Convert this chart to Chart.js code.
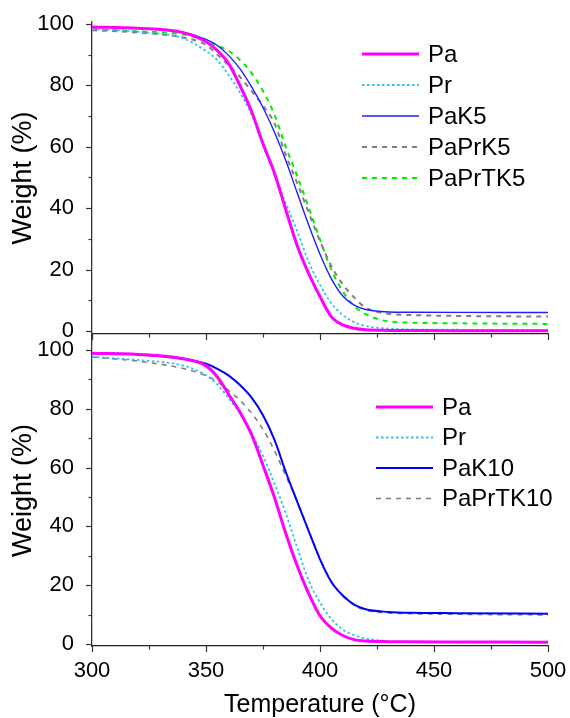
<!DOCTYPE html>
<html>
<head>
<meta charset="utf-8">
<script src="https://cdn.jsdelivr.net/npm/chart.js@4.4.0/dist/chart.umd.min.js"></script>
<style>
  html, body { margin: 0; padding: 0; background: #fff; }
  #wrap { position: relative; width: 570px; height: 718px; }
  .pane { position: absolute; left: 0; width: 570px; }
  #top { top: 0; height: 345px; }
  #bot { top: 335px; height: 383px; }
</style>
</head>
<body>
<div id="wrap">
  <div class="pane" id="top"><canvas id="cTop"></canvas></div>
  <div class="pane" id="bot"><canvas id="cBot"></canvas></div>
</div>
<script>
// --- DATA (temperature in °C, weight in %) ---
const temps = [300, 320, 340, 350, 355, 360, 365, 370, 375, 380, 385, 390, 395, 400, 405, 410, 415, 420, 430, 440, 460, 500];

// top panel
const topPa      = [99.0, 98.6, 97.2, 94.2, 91.3, 87.0, 79.8, 71.5, 61.0, 51.5, 39.5, 27.8, 18.8, 11.2, 4.6, 2.0, 0.9, 0.4, 0.2, 0.15, 0.1, 0.1];
const topPr      = [98.3, 97.5, 95.3, 91.2, 88.2, 83.3, 77.5, 70.5, 60.5, 51.0, 41.6, 32.5, 22.6, 15.0, 9.0, 5.2, 2.9, 1.6, 0.8, 0.5, 0.4, 0.3];
const topPaK5    = [99.0, 98.6, 97.3, 95.0, 93.0, 89.7, 85.3, 79.5, 72.8, 64.8, 55.5, 45.0, 34.6, 25.0, 17.0, 11.4, 8.4, 7.0, 6.2, 6.1, 6.05, 6.0];
const topPaPrK5  = [98.0, 97.2, 95.6, 93.2, 90.0, 86.5, 82.7, 78.1, 73.4, 67.7, 57.3, 48.2, 38.6, 29.3, 21.1, 15.2, 10.9, 7.6, 5.6, 5.2, 4.9, 4.7];
const topPaPrTK5 = [98.3, 97.6, 96.6, 94.5, 93.0, 91.2, 88.2, 84.0, 78.2, 70.5, 60.0, 50.5, 40.3, 29.8, 19.9, 12.9, 8.1, 5.5, 3.1, 2.7, 2.5, 2.3];

// bottom panel
const botPa      = [98.9, 98.5, 97.0, 94.6, 90.8, 84.8, 78.7, 71.2, 60.8, 49.9, 37.6, 26.6, 17.2, 9.6, 5.4, 2.9, 1.5, 1.0, 0.8, 0.75, 0.7, 0.6];
const botPr      = [97.7, 96.6, 94.7, 91.4, 88.2, 83.5, 78.2, 71.5, 64.0, 54.6, 44.4, 32.8, 21.6, 14.1, 8.5, 4.9, 3.0, 1.9, 0.9, 0.7, 0.6, 0.5];
const botPaK10   = [98.9, 98.5, 97.0, 95.3, 93.6, 91.3, 88.0, 83.8, 77.8, 69.5, 58.5, 48.4, 38.5, 28.8, 21.1, 16.5, 13.4, 11.8, 10.9, 10.6, 10.5, 10.3];
const botPaPrTK10= [97.6, 96.2, 93.7, 91.3, 89.2, 86.2, 82.8, 78.5, 73.0, 65.8, 57.2, 48.4, 38.6, 29.0, 21.2, 16.3, 13.2, 11.5, 10.6, 10.3, 10.1, 9.9];

// axis ticks
const xMajor = [300, 350, 400, 450, 500];
const xMinor = [325, 375, 425, 475];
const yMajor = [0, 20, 40, 60, 80, 100];
const yMinor = [10, 30, 50, 70, 90];

const FONT = "'Liberation Sans', Arial, sans-serif";
Chart.defaults.font.family = FONT;
Chart.defaults.color = '#000';

function pts(vals) {
    return temps.map((t, i) => ({ x: t, y: vals[i] }));
}

// --- PLUGINS ---
// outward tick marks, major and minor
const tickMarks = {
    id: 'tickMarks',
    afterDraw(chart) {
        const { ctx, chartArea, scales } = chart;
        ctx.save();
        ctx.strokeStyle = '#333';
        ctx.lineWidth = 1.2;
        const drawY = (vals, len) => vals.forEach(v => {
            const y = Math.round(scales.y.getPixelForValue(v)) + 0.5;
            ctx.beginPath();
            ctx.moveTo(chartArea.left, y);
            ctx.lineTo(chartArea.left - len, y);
            ctx.stroke();
        });
        const drawX = (vals, len) => vals.forEach(v => {
            const x = Math.round(scales.x.getPixelForValue(v)) + 0.5;
            ctx.beginPath();
            ctx.moveTo(x, chartArea.bottom);
            ctx.lineTo(x, chartArea.bottom + len);
            ctx.stroke();
        });
        drawY(yMajor, 6);
        drawY(yMinor, 3.5);
        drawX(xMajor, 6);
        drawX(xMinor, 3.5);
        ctx.restore();
    }
};

// legend inside the plot, drawn from the datasets
const innerLegend = {
    id: 'innerLegend',
    afterDraw(chart, args, opts) {
        const { ctx } = chart;
        ctx.save();
        ctx.font = `${opts.size}px ${FONT}`;
        ctx.textBaseline = 'middle';
        ctx.fillStyle = '#000';
        chart.data.datasets.forEach((ds, i) => {
            const y = opts.y0 + i * opts.dy;
            ctx.strokeStyle = ds.borderColor;
            ctx.lineWidth = ds.borderWidth;
            ctx.setLineDash(ds.borderDash || []);
            ctx.beginPath();
            ctx.moveTo(opts.x1, y);
            ctx.lineTo(opts.x2, y);
            ctx.stroke();
            ctx.setLineDash([]);
            ctx.fillText(ds.label, opts.x2 + 9, y + 1);
        });
        ctx.restore();
    }
};

function makeDs(label, vals, color, width, dash) {
    return {
        label, data: pts(vals),
        borderColor: color, borderWidth: width, borderDash: dash,
        pointRadius: 0, cubicInterpolationMode: 'monotone', fill: false
    };
}

function makeOptions(cfg) {
    return {
        responsive: true, maintainAspectRatio: false, animation: false,
        devicePixelRatio: 1,
        layout: { padding: { top: cfg.padTop, right: 22, left: 0, bottom: 0 } },
        plugins: {
            legend: { display: false },
            tooltip: { enabled: false },
            innerLegend: cfg.legend
        },
        scales: {
            x: {
                type: 'linear', min: 300, max: 500,
                afterBuildTicks: s => { s.ticks = xMajor.map(v => ({ value: v })); },
                afterFit: s => { s.height = cfg.xHeight; s.paddingLeft = 0; s.paddingRight = 0; },
                grid: { display: false },
                border: { display: true, color: '#222', width: 1.3 },
                ticks: { display: cfg.xLabels, padding: 4, font: { size: 22 }, color: '#000', maxRotation: 0 },
                title: {
                    display: cfg.xLabels, text: 'Temperature (°C)',
                    font: { size: 25, lineHeight: 1.0 }, color: '#000', padding: { top: 0, bottom: 0 }
                }
            },
            y: {
                min: cfg.yMin, max: cfg.yMax,
                afterBuildTicks: s => { s.ticks = yMajor.map(v => ({ value: v })); },
                afterFit: s => { s.width = 92; s.paddingTop = 0; s.paddingBottom = 0; },
                grid: { display: false },
                border: { display: true, color: '#333', width: 1.3 },
                ticks: { padding: 10, font: { size: 22 }, color: '#000' },
                title: {
                    display: true, text: 'Weight (%)',
                    font: { size: 27, lineHeight: 1.0 }, color: '#000', padding: { top: 10, bottom: 0 }
                }
            }
        }
    };
}

// --- CHARTS ---
new Chart(document.getElementById('cTop'), {
    type: 'line',
    data: {
        datasets: [
            makeDs('Pa', topPa, '#ff00ff', 3, []),
            makeDs('Pr', topPr, '#2ec4ee', 1.8, [2.5, 2.5]),
            makeDs('PaK5', topPaK5, '#1f1fff', 1.4, []),
            makeDs('PaPrK5', topPaPrK5, '#808080', 2, [5, 5]),
            makeDs('PaPrTK5', topPaPrTK5, '#00ee00', 2, [5, 5])
        ]
    },
    options: makeOptions({
        padTop: 22, xHeight: 11, xLabels: false, yMin: -0.98, yMax: 100.65,
        legend: { x1: 362, x2: 419, y0: 54, dy: 31, size: 24 }
    }),
    plugins: [tickMarks, innerLegend]
});

new Chart(document.getElementById('cBot'), {
    type: 'line',
    data: {
        datasets: [
            makeDs('Pa', botPa, '#ff00ff', 3, []),
            makeDs('Pr', botPr, '#2ec4ee', 1.8, [2.5, 2.5]),
            makeDs('PaK10', botPaK10, '#0000ff', 2, []),
            makeDs('PaPrTK10', botPaPrTK10, '#808080', 1.6, [5, 5])
        ]
    },
    options: makeOptions({
        padTop: 0, xHeight: 72, xLabels: true, yMin: -0.68, yMax: 105.1,
        legend: { x1: 376, x2: 433, y0: 72, dy: 30.5, size: 24 }
    }),
    plugins: [tickMarks, innerLegend]
});
</script>
</body>
</html>
